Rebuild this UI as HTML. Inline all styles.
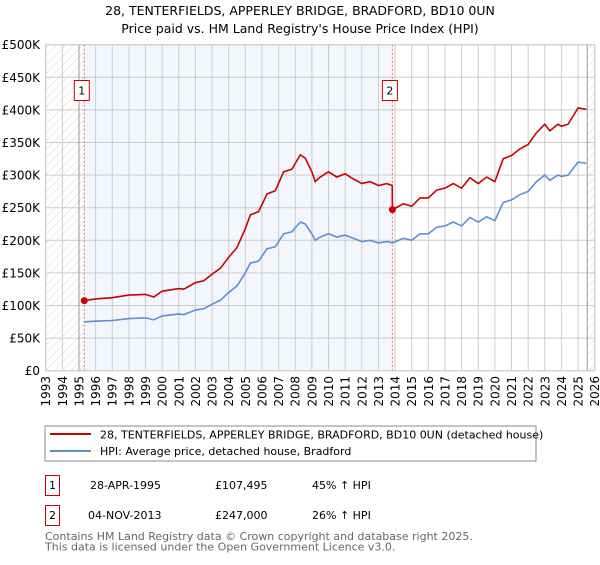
<!DOCTYPE html>
<html><head><meta charset="utf-8"><style>
body{margin:0;background:#fff;font-family:"Liberation Sans","DejaVu Sans",sans-serif;}
svg text{font-family:"DejaVu Sans","Liberation Sans",sans-serif;}
</style></head><body>
<svg id="c" width="600" height="560" xmlns="http://www.w3.org/2000/svg">
<defs><pattern id="h" width="6" height="6" patternUnits="userSpaceOnUse" patternTransform="rotate(45)"><line x1="0" y1="0" x2="0" y2="6" stroke="#ccc" stroke-width="0.8"/></pattern></defs>
<text x="300" y="15" text-anchor="middle" font-size="12.5">28, TENTERFIELDS, APPERLEY BRIDGE, BRADFORD, BD10 0UN</text>
<text x="300" y="33" text-anchor="middle" font-size="12.5">Price paid vs. HM Land Registry's House Price Index (HPI)</text>
<g id="plot"></g>
<rect x="45" y="426" width="491" height="35" fill="#fff" stroke="#888"/>
<line x1="50" y1="434" x2="91" y2="434" stroke="#cc0000" stroke-width="2"/>
<text x="100" y="438.5" font-size="11">28, TENTERFIELDS, APPERLEY BRIDGE, BRADFORD, BD10 0UN (detached house)</text>
<line x1="50" y1="451" x2="91" y2="451" stroke="#5b8fd4" stroke-width="2"/>
<text x="100" y="455" font-size="11">HPI: Average price, detached house, Bradford</text>
<g font-size="11">
<rect x="45.5" y="475.5" width="14" height="20" fill="#fff" stroke="#cc0000"/>
<text x="52.5" y="489" text-anchor="middle">1</text>
<text x="90" y="489">28-APR-1995</text>
<text x="215" y="489">£107,495</text>
<text x="312" y="489">45% ↑ HPI</text>
<rect x="45.5" y="505.5" width="14" height="20" fill="#fff" stroke="#cc0000"/>
<text x="52.5" y="519" text-anchor="middle">2</text>
<text x="88" y="519">04-NOV-2013</text>
<text x="215" y="519">£247,000</text>
<text x="312" y="519">26% ↑ HPI</text>
</g>
<text x="45" y="540" font-size="11" fill="#666">Contains HM Land Registry data © Crown copyright and database right 2025.</text>
<text x="45" y="550.5" font-size="11" fill="#666">This data is licensed under the Open Government Licence v3.0.</text>
</svg>
<script>
const hpiYears=[1995.32,1996,1997,1998,1999,1999.5,2000,2001,2001.3,2002,2002.5,2003,2003.5,2004,2004.5,2005,2005.3,2005.8,2006.3,2006.8,2007.3,2007.8,2008.3,2008.6,2009,2009.2,2009.5,2010,2010.5,2011,2011.5,2012,2012.5,2013,2013.5,2013.84,2014.5,2015,2015.5,2016,2016.5,2017,2017.5,2018,2018.5,2019,2019.5,2020,2020.5,2021,2021.5,2022,2022.5,2023,2023.3,2023.8,2024,2024.4,2025,2025.5];
const hpiValues=[75,76,77,80,81,78,84,87,86,93,95,102,108,120,130,150,165,168,187,190,210,213,228,225,210,200,205,210,205,208,203,198,200,196,198,196,203,200,210,210,220,222,228,222,235,228,236,230,258,262,270,275,290,300,292,300,298,300,320,318];
const priceYears=[1995.32,1996,1997,1998,1999,1999.5,2000,2001,2001.3,2002,2002.5,2003,2003.5,2004,2004.5,2005,2005.3,2005.8,2006.3,2006.8,2007.3,2007.8,2008.3,2008.6,2009,2009.2,2009.5,2010,2010.5,2011,2011.5,2012,2012.5,2013,2013.5,2013.83,2013.84,2014.5,2015,2015.5,2016,2016.5,2017,2017.5,2018,2018.5,2019,2019.5,2020,2020.5,2021,2021.5,2022,2022.5,2023,2023.3,2023.8,2024,2024.4,2025,2025.5];
const priceValues=[107.5,110,112,116,117,113,122,126,125,135,138,148,157,174,189,218,239,244,271,276,305,309,331,326,305,290,297,305,297,302,294,287,290,284,287,284,247,256,252,265,265,277,280,287,280,296,287,297,290,325,330,340,347,365,378,368,378,375,378,403,401];
const saleYears=[1995.32,2013.84];
const saleValues=[107.495,247];
const saleLabels=["1","2"];
const yTicks=[0,50,100,150,200,250,300,350,400,450,500];
const yTickLabels=["£0","£50K","£100K","£150K","£200K","£250K","£300K","£350K","£400K","£450K","£500K"];
const xTicks=[1993,1994,1995,1996,1997,1998,1999,2000,2001,2002,2003,2004,2005,2006,2007,2008,2009,2010,2011,2012,2013,2014,2015,2016,2017,2018,2019,2020,2021,2022,2023,2024,2025,2026];

const X0=45.7,X1=594.7,Y0=370.7,Y1=44.7;
const xs=y=>X0+(y-1993)/33*(X1-X0);
const ys=v=>Y0-v/500*(Y0-Y1);
const NS="http://www.w3.org/2000/svg";
const g=document.getElementById('plot');
function mk(t,a){const e=document.createElementNS(NS,t);for(const k in a)e.setAttribute(k,a[k]);g.appendChild(e);return e;}
let e;
e=mk('rect',{x:X0,y:Y1,width:xs(1995.32)-X0,height:Y0-Y1,fill:'url(#h)'});


e=mk('rect',{x:xs(2025.55),y:Y1,width:X1-xs(2025.55),height:Y0-Y1,fill:'url(#h)'});


e=mk('rect',{x:xs(saleYears[0]),y:Y1,width:xs(saleYears[1])-xs(saleYears[0]),height:Y0-Y1,fill:'#f3f6fd'});


yTicks.forEach((v,i)=>{
 e=mk('line',{x1:X0,x2:X1,y1:ys(v),y2:ys(v),stroke:'#ccc','stroke-width':1});
 
 
 e=mk('text',{x:40,y:ys(v)+4.5,'text-anchor':'end','font-size':'12'});
 e.textContent=yTickLabels[i];
 
 
});
xTicks.forEach(t=>{
 e=mk('line',{x1:xs(t),x2:xs(t),y1:Y1,y2:Y0,stroke:'#ccc','stroke-width':1});
 
 
 e=mk('text',{x:0,y:0,'font-size':'12','text-anchor':'end',transform:`translate(${xs(t)+4.5},376) rotate(-90)`});
 e.textContent=t;
 
 
});
e=mk('line',{x1:xs(1995),x2:xs(1995),y1:Y1,y2:Y0,stroke:'#999'});


e=mk('line',{x1:xs(2025.55),x2:xs(2025.55),y1:Y1,y2:Y0,stroke:'#999'});


saleYears.forEach(y=>{
 e=mk('line',{x1:xs(y),x2:xs(y),y1:Y1,y2:Y0,stroke:'#ff6666','stroke-dasharray':'2,2'});
 
 
});
e=mk('polyline',{points:hpiYears.map((y,i)=>xs(y)+','+ys(hpiValues[i])).join(' '),fill:'none',stroke:'#5b8fd4','stroke-width':1.6});


e=mk('polyline',{points:priceYears.map((y,i)=>xs(y)+','+ys(priceValues[i])).join(' '),fill:'none',stroke:'#cc0000','stroke-width':1.6});


saleYears.forEach((y,i)=>{
 e=mk('circle',{cx:xs(y),cy:ys(saleValues[i]),r:3.5,fill:'#cc0000'});
 
 
 e=mk('rect',{x:xs(y)-10,y:80.5,width:15,height:20,fill:'#fff',stroke:'#cc0000'});
 
 
 e=mk('text',{x:xs(y)-2.5,y:94.5,'text-anchor':'middle','font-size':'11'});
 e.textContent=saleLabels[i];
 
 
});
e=mk('rect',{x:X0,y:Y1,width:X1-X0,height:Y0-Y1,fill:'none',stroke:'#ccc'});


</script>
</body></html>
